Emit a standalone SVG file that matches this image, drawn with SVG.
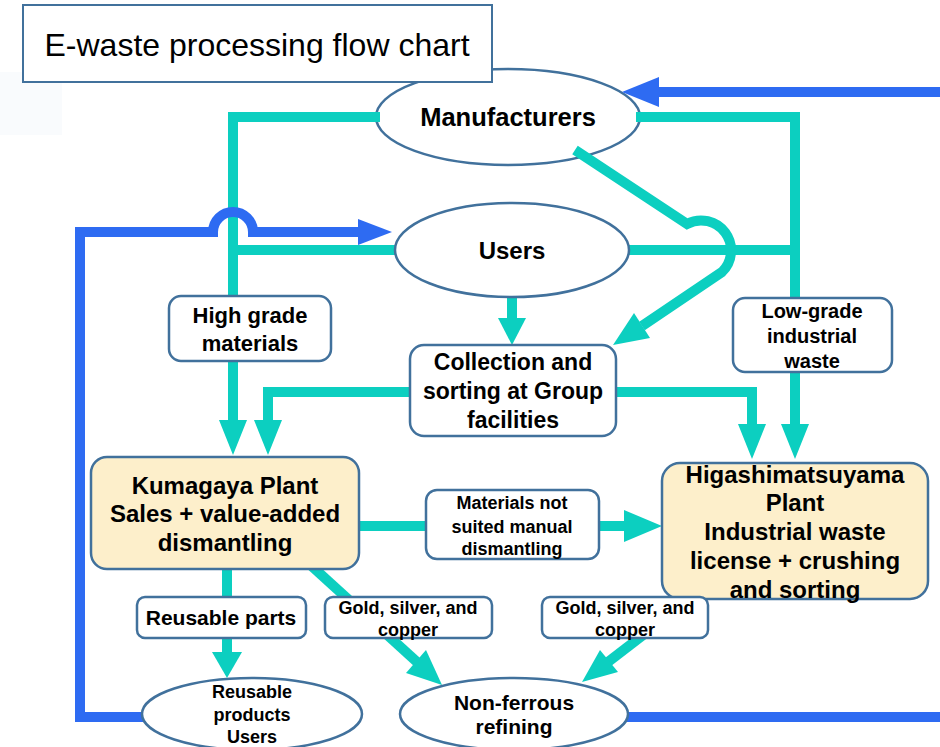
<svg xmlns="http://www.w3.org/2000/svg" width="940" height="747" viewBox="0 0 940 747">
  <style>
    .flow { fill: none; stroke: #0ccfc0; stroke-width: 10; stroke-linejoin: miter; }
    .flowhead { fill: #0ccfc0; }
    .ret { fill: none; stroke: #2e6bf2; stroke-width: 10; stroke-linejoin: miter; }
    .rethead { fill: #2e6bf2; }
    .node { fill: #ffffff; stroke: #41719c; stroke-width: 2.5; }
    .plant { fill: #fdefcb; stroke: #41719c; stroke-width: 2.5; }
    text { font-family: "Liberation Sans", Arial, sans-serif; font-weight: bold; fill: #000; text-anchor: middle; }
    .title { font-weight: normal; font-size: 32px; }
  </style>

  <!-- faint backdrop patch at left edge -->
  <rect x="0" y="72" width="62" height="63" fill="#f9fbfd"/>

  <!-- Manufacturers (drawn under the title box) -->
  <g id="manufacturers">
    <ellipse class="node" cx="508" cy="117" rx="132" ry="48"/>
    <text x="508" y="126" font-size="25.5">Manufacturers</text>
  </g>

  <!-- Title -->
  <g id="title">
    <rect x="23" y="5" width="469" height="77" fill="#ffffff" stroke="#41719c" stroke-width="2"/>
    <text class="title" x="257" y="56">E-waste processing flow chart</text>
  </g>

  <!-- Connectors -->
  <g id="connectors">
    <!-- teal material flows -->
    <path class="flow" d="M 380 117 L 233 117 L 233 422"/>
    <polygon class="flowhead" points="233,455 219,420 247,420"/>
    <path class="flow" d="M 398 250 L 233 250"/>
    <path class="flow" d="M 626 250 L 795 250"/>
    <path class="flow" d="M 636 117 L 795 117 L 795 425"/>
    <polygon class="flowhead" points="795,459 781,424 809,424"/>
    <path class="flow" d="M 512 296 L 512 320"/>
    <polygon class="flowhead" points="512,345 498,318 526,318"/>
    <path class="flow" d="M 412 392 L 268 392 L 268 422"/>
    <polygon class="flowhead" points="268,455 254,420 282,420"/>
    <path class="flow" d="M 614 392 L 752 392 L 752 425"/>
    <polygon class="flowhead" points="752,459 738,424 766,424"/>
    <!-- Manufacturers to collection, hopping over the Users line -->
    <path class="flow" d="M 575 150 L 687 224 A 30 30 0 0 1 722 272 L 642 326"/>
    <polygon class="flowhead" points="613,345 650,338 634,313"/>
    <!-- Kumagaya to Higashimatsuyama -->
    <path class="flow" d="M 358 526 L 430 526"/>
    <path class="flow" d="M 596 526 L 626 526"/>
    <polygon class="flowhead" points="662,526 624,510 624,542"/>
    <!-- Kumagaya outputs -->
    <path class="flow" d="M 227 568 L 227 600"/>
    <path class="flow" d="M 227 636 L 227 654"/>
    <polygon class="flowhead" points="227,678 212,652 242,652"/>
    <path class="flow" d="M 305 560 L 417 662"/>
    <polygon class="flowhead" points="442,685 406,673 426,650"/>
    <!-- Higashimatsuyama output -->
    <path class="flow" d="M 660 622 L 608 662"/>
    <polygon class="flowhead" points="582,682 618,672 600,650"/>

    <!-- blue return flows -->
    <path class="ret" d="M 940 92 L 656 92"/>
    <polygon class="rethead" points="622,92 659,77 659,107"/>
    <path class="ret" d="M 145 717 L 80 717 L 80 232 L 213 232 A 20 20 0 0 1 253 232 L 362 232"/>
    <polygon class="rethead" points="392,232 358,219 358,245"/>
    <path class="ret" d="M 624 717 L 940 717"/>
  </g>

  <g id="users">
    <ellipse class="node" cx="512" cy="250" rx="117" ry="47"/>
    <text x="512" y="259" font-size="24">Users</text>
  </g>

  <g id="high-grade">
    <rect class="node" x="169" y="296" width="162" height="65" rx="12"/>
    <text x="250" y="323" font-size="22">High grade</text>
    <text x="250" y="351" font-size="22">materials</text>
  </g>

  <g id="low-grade">
    <rect class="node" x="733" y="298" width="159" height="74" rx="12"/>
    <text x="812" y="318" font-size="20">Low-grade</text>
    <text x="812" y="343" font-size="20">industrial</text>
    <text x="812" y="368" font-size="20">waste</text>
  </g>

  <g id="collection">
    <rect class="node" x="410" y="345" width="206" height="91" rx="14"/>
    <text x="513" y="370" font-size="23">Collection and</text>
    <text x="513" y="399" font-size="23">sorting at Group</text>
    <text x="513" y="428" font-size="23">facilities</text>
  </g>

  <g id="kumagaya">
    <rect class="plant" x="91" y="457" width="268" height="112" rx="16"/>
    <text x="225" y="494" font-size="24">Kumagaya Plant</text>
    <text x="225" y="522" font-size="24">Sales + value-added</text>
    <text x="225" y="551" font-size="24">dismantling</text>
  </g>

  <g id="not-suited">
    <rect class="node" x="426" y="490" width="173" height="69" rx="11"/>
    <text x="512" y="509" font-size="18">Materials not</text>
    <text x="512" y="533" font-size="18">suited manual</text>
    <text x="512" y="555" font-size="18">dismantling</text>
  </g>

  <g id="higashimatsuyama">
    <rect class="plant" x="662" y="463" width="266" height="136" rx="18"/>
    <text x="795" y="483" font-size="24">Higashimatsuyama</text>
    <text x="795" y="511" font-size="24">Plant</text>
    <text x="795" y="540" font-size="24">Industrial waste</text>
    <text x="795" y="569" font-size="24">license + crushing</text>
    <text x="795" y="598" font-size="24">and sorting</text>
  </g>

  <g id="reusable-parts">
    <rect class="node" x="137" y="597" width="169" height="41" rx="8"/>
    <text x="221" y="625" font-size="21">Reusable parts</text>
  </g>

  <g id="metals-kumagaya">
    <rect class="node" x="325" y="597" width="167" height="41" rx="8"/>
    <text x="408" y="614" font-size="18">Gold, silver, and</text>
    <text x="408" y="636" font-size="18">copper</text>
  </g>

  <g id="metals-higashimatsuyama">
    <rect class="node" x="542" y="597" width="166" height="41" rx="8"/>
    <text x="625" y="614" font-size="18">Gold, silver, and</text>
    <text x="625" y="636" font-size="18">copper</text>
  </g>

  <g id="reusable-products">
    <ellipse class="node" cx="252" cy="714" rx="110" ry="36"/>
    <text x="252" y="698" font-size="18">Reusable</text>
    <text x="252" y="721" font-size="18">products</text>
    <text x="252" y="743" font-size="18">Users</text>
  </g>

  <g id="non-ferrous">
    <ellipse class="node" cx="514" cy="714" rx="114" ry="36"/>
    <text x="514" y="710" font-size="21">Non-ferrous</text>
    <text x="514" y="734" font-size="21">refining</text>
  </g>
</svg>
